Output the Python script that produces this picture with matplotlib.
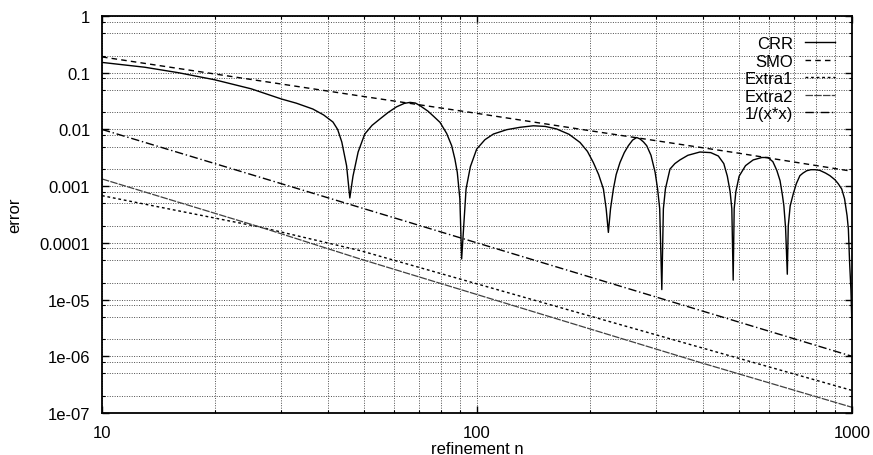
import numpy as np
import matplotlib
matplotlib.use("Agg")
from matplotlib import pyplot as plt
from matplotlib.ticker import LogLocator, NullFormatter, FixedLocator

plt.rcParams['font.family'] = ['Liberation Sans', 'DejaVu Sans']

# CRR error
crr_n = [10, 13, 16, 20, 25, 30.1, 33, 36.5, 39, 41.3, 42.5, 43.6, 44.9, 45.8,
         46.7, 48.2, 50.2, 52.5, 55.1, 58, 61, 64, 66.3, 68.5, 70.5, 74, 77, 79.7,
         83, 85.6, 87.3, 88.6, 90, 91,
         93.5, 96, 99.8, 105, 110.6, 120, 130.2, 141.3, 152, 163, 176, 188.2, 197,
         204.3, 211, 217.3, 221, 224,
         227, 231, 235, 240.5, 247, 253.2, 260, 266.6, 272, 278, 283.5, 291, 298.5,
         303, 307, 311,
         314, 318, 327, 337, 347.6, 365, 393, 420, 440, 455, 465, 473, 478, 482,
         485, 490, 500, 520, 545, 575, 597, 615, 630, 642.7, 652, 658, 665, 672,
         676, 684, 697, 710, 726, 740, 757, 777, 797, 820, 850, 873, 900, 919,
         938.6, 955, 970, 977.7, 985, 993, 1000]
crr_err = [0.152, 0.125, 0.100, 0.075, 0.052, 0.0344, 0.029, 0.0229, 0.018, 0.0135, 0.010,
           0.0060, 0.00229, 0.00062,
           0.0015, 0.004, 0.0083, 0.0118, 0.0153, 0.020, 0.025, 0.0288, 0.030, 0.0292, 0.0262,
           0.021, 0.0165, 0.0133, 0.0085, 0.00516, 0.003, 0.00175, 0.0006, 5.2e-5,
           0.00089, 0.0022, 0.0045, 0.0066, 0.0083, 0.0099, 0.0109, 0.0116, 0.0113, 0.0102,
           0.0082, 0.0059, 0.0041, 0.0026, 0.0016, 0.00089, 0.0004, 0.000153,
           0.0004, 0.00089, 0.0016, 0.0026, 0.0039, 0.00516, 0.0065, 0.0072, 0.0068, 0.006,
           0.00516, 0.0035, 0.00175, 0.0009, 0.0004, 1.5e-5,
           0.0004, 0.0009, 0.002, 0.0025, 0.0029, 0.0035, 0.0040, 0.0039, 0.0034, 0.0025,
           0.0015, 0.0008, 0.0004, 2.2e-5,
           0.0004, 0.0008, 0.0015, 0.0023, 0.0029, 0.0032, 0.0032, 0.0027, 0.0019, 0.00125,
           0.0007, 0.00045, 0.00018, 2.8e-5,
           0.0002, 0.00045, 0.00073, 0.0011, 0.00153, 0.0017, 0.00187, 0.00195, 0.00195,
           0.0019, 0.0017, 0.00153, 0.0013, 0.0011, 0.00089, 0.0006, 0.0003, 0.000175,
           4.6e-5, 1.5e-5, 3e-6]

smo_n = [10, 20, 50, 100, 200, 500, 1000]
smo_err = [0.19, 0.095, 0.038, 0.0192, 0.0095, 0.0038, 0.00183]

extra1_n = [10, 26.4, 48.8, 393, 1000]
extra1_err = [0.00068, 0.00019, 7.3e-5, 1.44e-6, 2.5e-7]

extra2_n = [10, 26.4, 48.8, 393, 1000]
extra2_err = [0.00134, 0.00019, 5.2e-5, 7.8e-7, 1.26e-7]

inv_n = [10, 100, 1000]
inv_err = [0.01, 1e-4, 1e-6]

fig = plt.figure(figsize=(8.73, 4.56), dpi=100)
ax = fig.add_axes([0.1168, 0.0921, 0.8592, 0.8706])

ax.plot(crr_n, crr_err, color='black', lw=1.0, label='CRR')
ax.plot(smo_n, smo_err, color='black', lw=1.0, dashes=(4, 3), label='SMO')
ax.plot(extra1_n, extra1_err, color='black', lw=1.0, dashes=(2, 2), label='Extra1')
ax.plot(extra2_n, extra2_err, color='0.25', lw=0.9, dashes=(6, 1), label='Extra2')
ax.plot(inv_n, inv_err, color='black', lw=1.0, dashes=(6, 2, 1, 2), label='1/(x*x)')

ax.set_xscale('log')
ax.set_yscale('log')
ax.set_xlim(10, 1000)
ax.set_ylim(1e-7, 1)

ax.xaxis.set_major_locator(FixedLocator([10, 100, 1000]))
ax.xaxis.set_minor_locator(LogLocator(base=10, subs=np.arange(2, 10)))
ax.yaxis.set_major_locator(FixedLocator([10.0**k for k in range(-7, 1)]))
ax.yaxis.set_minor_locator(LogLocator(base=10, subs=(2, 5, 8)))
ax.xaxis.set_minor_formatter(NullFormatter())
ax.yaxis.set_minor_formatter(NullFormatter())
ax.set_xticklabels(['10', '100', '1000'])
ax.set_yticklabels(['1e-07', '1e-06', '1e-05', '0.0001', '0.001', '0.01', '0.1', '1'])

ax.tick_params(which='both', direction='in', top=True, right=True, labelsize=12,
               color='black')
ax.tick_params(which='major', length=5, width=1.0)
ax.tick_params(which='minor', length=2.5, width=0.8)
ax.tick_params(axis='y', pad=8.5)
ax.tick_params(axis='x', pad=8.6)

ax.grid(True, which='both', color='0.3', lw=0.7, linestyle=(0, (1, 1.5)))
for s in ax.spines.values():
    s.set_linewidth(1.3)

ax.set_xlabel('refinement n', fontsize=12, labelpad=0.5)
ax.set_ylabel('error', fontsize=12, labelpad=12)

leg = ax.legend(loc='upper right', bbox_to_anchor=(0.989, 0.97), frameon=False,
                markerfirst=False, fontsize=12, labelspacing=0.15,
                handlelength=1.85, handletextpad=0.7, borderpad=0)

fig.savefig('out.png', dpi=100)
